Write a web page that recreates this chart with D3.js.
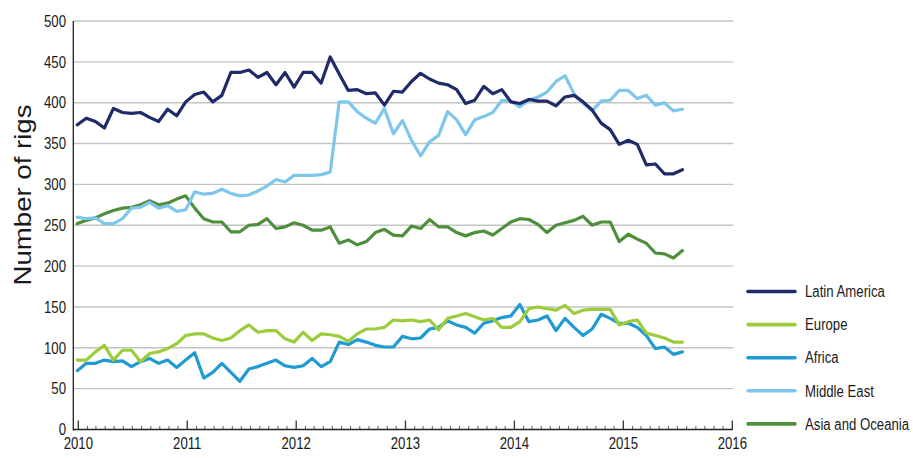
<!DOCTYPE html>
<html>
<head>
<meta charset="utf-8">
<script src="https://cdn.jsdelivr.net/npm/d3@7"></script>
<style>
  html, body { margin: 0; padding: 0; background: #fff; }
  svg { display: block; }
  text { font-family: "Liberation Sans", Arial, Helvetica, sans-serif; fill: #1a1a1a; }
</style>
</head>
<body>
<svg id="chart" width="913" height="458"></svg>
<script>
// ---- data -------------------------------------------------------------
const startMonth = new Date(Date.UTC(2010, 0, 1));
const endMonth = new Date(Date.UTC(2015, 7, 1));
const months = d3.utcMonth.range(startMonth, d3.utcMonth.offset(endMonth, 1)); // Jan 2010 .. Aug 2015

const latinAmerica = [373,381,377,369,393,388,387,388,382,377, 392,384,401,410,413,401,409,437,437,440,
  431,437,422,437,419,437,437,424,456,435, 415,416,411,412,397,414,413,426,436,429,
  424,422,416,399,403,420,411,416,401,399, 404,402,402,396,407,409,401,391,375,367,
  349,354,349,324,325,313,313,318];
const europe = [85,85,95,103,85,97,97,83,93,95, 99,105,115,117,117,112,109,112,121,128,
  119,121,121,111,107,119,109,117,116,114, 108,117,123,123,125,134,133,134,132,134,
  122,136,139,142,138,134,136,125,125,132, 148,150,148,146,152,142,146,147,147,147,
  128,132,134,118,115,112,107,107];
const africa = [72,81,81,85,83,84,77,83,87,81, 85,76,85,94,63,70,81,70,59,74,
  77,81,85,78,76,78,87,77,83,107, 104,110,107,103,101,101,114,111,112,123,
  125,133,128,125,118,130,133,137,139,153, 132,134,139,121,136,125,115,123,141,136,
  130,130,125,115,99,101,92,95];
const middleEast = [260,258,259,252,252,258,271,272,278,271, 274,267,269,291,288,289,294,289,286,287,
  292,298,306,303,311,311,311,312,315,401, 401,389,381,375,393,362,378,354,335,352,
  360,389,379,361,379,383,388,403,402,395, 403,407,413,426,433,411,399,390,402,403,
  415,415,405,409,397,400,390,392];
const asiaOceania = [252,256,259,264,268,271,272,275,280,275, 277,282,286,271,258,254,254,242,242,250,
  251,258,246,248,253,250,244,244,248,228, 232,226,230,241,245,238,237,249,246,257,
  248,248,241,237,241,243,238,246,254,258, 257,251,241,250,253,256,261,250,254,254,
  230,239,233,228,216,215,210,219];

const seriesNames = ["Latin America", "Europe", "Africa", "Middle East", "Asia and Oceania"];
const seriesValues = [latinAmerica, europe, africa, middleEast, asiaOceania];
const seriesColors = ["#1f2a68", "#9ccb3c", "#1f9ad3", "#7fc7ea", "#4d8f3b"];

const yTicks = [0, 50, 100, 150, 200, 250, 300, 350, 400, 450, 500];
const yearTicks = [2010, 2011, 2012, 2013, 2014, 2015, 2016];
const yTitle = "Number of rigs";

// ---- layout -----------------------------------------------------------
const svg = d3.select("#chart");
const yScaleText = 1.2; // reference text is vertically stretched

const x = d3.scaleUtc()
  .domain([new Date(Date.UTC(2010, 0, 1)), new Date(Date.UTC(2016, 0, 1))])
  .range([78.3, 732.3]);
// data points in the reference are spaced slightly tighter than the month ticks
const xData = d3.scalePoint()
  .domain(months.map(d => +d))
  .range([x(startMonth) - 1, x(new Date(Date.UTC(2015, 6, 18)))]);
const axisLeftX = 73.3;
const y = d3.scaleLinear().domain([0, 500]).range([429.5, 21]);

// gridlines
svg.append("g").selectAll("line")
  .data(yTicks.filter(d => d > 0))
  .join("line")
  .attr("x1", axisLeftX).attr("x2", x.range()[1] + 1)
  .attr("y1", d => y(d)).attr("y2", d => y(d))
  .attr("stroke", "#c3c3c3").attr("stroke-width", 1.4);

// y tick labels
svg.append("g").selectAll("text")
  .data(yTicks)
  .join("text")
  .attr("transform", d => `translate(66,${y(d)}) scale(1,${yScaleText})`)
  .attr("text-anchor", "end")
  .attr("dy", "0.36em")
  .attr("font-size", 13.2)
  .text(d => d);

// y axis line
svg.append("line")
  .attr("x1", axisLeftX).attr("x2", axisLeftX)
  .attr("y1", y(500)).attr("y2", y(0) + 1)
  .attr("stroke", "#222").attr("stroke-width", 1.3);

// x axis line
svg.append("line")
  .attr("x1", axisLeftX).attr("x2", x.range()[1] + 0.7)
  .attr("y1", y(0)).attr("y2", y(0))
  .attr("stroke", "#222").attr("stroke-width", 1.3);

// month minor ticks
const monthTicks = d3.utcMonth.range(new Date(Date.UTC(2010, 0, 1)), new Date(Date.UTC(2016, 0, 2)));
svg.append("g").selectAll("line")
  .data(monthTicks)
  .join("line")
  .attr("x1", d => x(d)).attr("x2", d => x(d))
  .attr("y1", y(0))
  .attr("y2", d => d.getUTCMonth() === 0 ? y(0) - 9 : y(0) - 3.5)
  .attr("stroke", "#333")
  .attr("stroke-width", d => d.getUTCMonth() === 0 ? 1.3 : 0.8);

// year labels
svg.append("g").selectAll("text")
  .data(yearTicks)
  .join("text")
  .attr("transform", d => `translate(${x(new Date(Date.UTC(d, 0, 1)))},${y(0) + 19.5}) scale(1,${yScaleText})`)
  .attr("text-anchor", "middle")
  .attr("font-size", 13.2)
  .text(d => d);

// y title
svg.append("text")
  .attr("transform", `translate(31,195) scale(1,${yScaleText}) rotate(-90)`)
  .attr("text-anchor", "middle")
  .attr("font-size", 23)
  .text(yTitle);

// series lines (draw in reverse so Latin America is on top)
const line = d3.line()
  .x((d, i) => xData(+months[i]))
  .y(d => y(d));

const order = [4, 3, 2, 1, 0];
svg.append("g").selectAll("path")
  .data(order)
  .join("path")
  .attr("d", k => line(seriesValues[k]))
  .attr("fill", "none")
  .attr("stroke", k => seriesColors[k])
  .attr("stroke-width", 3.2)
  .attr("stroke-linejoin", "round")
  .attr("stroke-linecap", "round");

// legend
const legend = svg.append("g").selectAll("g")
  .data(seriesNames)
  .join("g")
  .attr("transform", (d, i) => `translate(748,${291.5 + i * 33.1})`);
legend.append("line")
  .attr("x1", 0).attr("x2", 47)
  .attr("stroke", (d, i) => seriesColors[i])
  .attr("stroke-width", 3.6)
  .attr("stroke-linecap", "round");
legend.append("text")
  .attr("transform", `translate(57,0) scale(1,${yScaleText})`)
  .attr("dy", "0.36em")
  .attr("font-size", 13.2)
  .text(d => d);
</script>
</body>
</html>
